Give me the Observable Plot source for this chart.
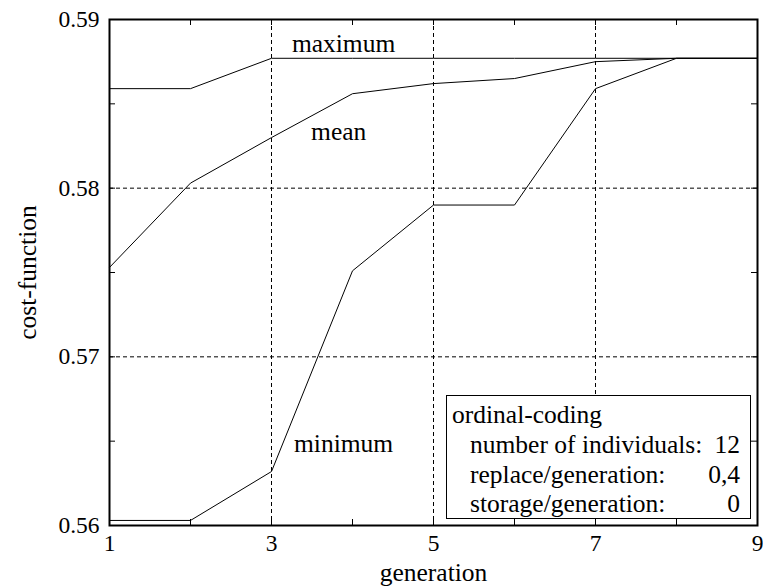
<!DOCTYPE html>
<html>
<head>
<meta charset="utf-8">
<script src="https://cdn.jsdelivr.net/npm/d3@7"></script>
<script src="https://cdn.jsdelivr.net/npm/@observablehq/plot@0.6"></script>
<style>
  html, body { margin: 0; padding: 0; background: white; }
  #wrap { position: relative; width: 763px; height: 587px; overflow: hidden; }
  #wrap svg, #wrap svg text { font-family: "Liberation Serif", Tinos, "Times New Roman", Times, "DejaVu Serif", serif !important; }
  #legend {
    position: absolute; left: 446px; top: 395px; width: 303px; height: 122px;
    border: 1px solid black; background: white; box-sizing: content-box;
    font-family: "Liberation Serif", Tinos, "Times New Roman", Times, "DejaVu Serif", serif; font-size: 25.5px; color: black;
  }
  #legend .row { position: absolute; white-space: nowrap; line-height: 1; }
</style>
</head>
<body>
<div id="wrap"></div>
<script>
const generations = [1, 2, 3, 4, 5, 6, 7, 8, 9];
const maximum = [0.5859, 0.5859, 0.5877, 0.5877, 0.5877, 0.5877, 0.5877, 0.5877, 0.5877];
const mean    = [0.5753, 0.5803, 0.5830, 0.5856, 0.5862, 0.5865, 0.5875, 0.5877, 0.5877];
const minimum = [0.5603, 0.5603, 0.5632, 0.5751, 0.5790, 0.5790, 0.5859, 0.5877, 0.5877];

const xTicks = [1, 2, 3, 4, 5, 6, 7, 8, 9];
const xTickLabels = [1, 3, 5, 7, 9];
const yTicks = [0.56, 0.565, 0.57, 0.575, 0.58, 0.585, 0.59];
const yTickLabels = [0.56, 0.57, 0.58, 0.59];
const gridX = [3, 5, 7];
const gridY = [0.57, 0.58];

const labelTexts = ["maximum", "mean", "minimum"];
const labelGen = [3.89, 3.83, 3.89];
const labelValue = [0.58855, 0.58332, 0.56487];

const legendTitle = "ordinal-coding";
const legendKeys = ["number of individuals:", "replace/generation:", "storage/generation:"];
const legendValues = ["12", "0,4", "0"];

const rows = [];
[["maximum", maximum], ["mean", mean], ["minimum", minimum]].forEach(([name, vals]) => {
  generations.forEach((g, i) => rows.push({series: name, gen: g, value: vals[i]}));
});
const seriesLabels = labelTexts.map((t, i) => ({text: t, gen: labelGen[i], value: labelValue[i]}));

const W = 763, H = 587, mt = 19, mb = 62, ml = 109, mr = 6;
const innerH = H - mt - mb, innerW = W - ml - mr;
const font = '"Liberation Serif", Tinos, "Times New Roman", Times, "DejaVu Serif", serif';

const chart = Plot.plot({
  width: W, height: H,
  marginTop: mt, marginBottom: mb, marginLeft: ml, marginRight: mr,
  style: {fontFamily: font, fontSize: "23.5px", color: "black", background: "white"},
  x: {domain: [1, 9]},
  y: {domain: [0.56, 0.59]},
  marks: [
    Plot.ruleX(gridX, {x: d => d, stroke: "black", strokeWidth: 1, strokeDasharray: "4,3"}),
    Plot.ruleY(gridY, {y: d => d, stroke: "black", strokeWidth: 1, strokeDasharray: "4,3"}),
    Plot.tickX(xTicks, {x: d => d, stroke: "black", insetTop: innerH - 6}),
    Plot.tickX(xTicks, {x: d => d, stroke: "black", insetBottom: innerH - 6}),
    Plot.tickY(yTicks, {y: d => d, stroke: "black", insetRight: innerW - 6}),
    Plot.tickY(yTicks, {y: d => d, stroke: "black", insetLeft: innerW - 6}),
    Plot.line(rows, {x: "gen", y: "value", z: "series", stroke: "black", strokeWidth: 1}),
    Plot.text(seriesLabels, {x: "gen", y: "value", text: "text", fontSize: 25.5, fill: "black"}),
    Plot.axisX({ticks: xTickLabels, tickSize: 0, tickPadding: 9, label: null, fontSize: 23.5, tickFormat: d => String(d)}),
    Plot.axisY({ticks: yTickLabels, tickSize: 0, tickPadding: 10, label: null, fontSize: 23.5, tickFormat: d => d.toFixed(2)}),
    Plot.text(["generation"], {frameAnchor: "bottom", text: d => d, dy: 47, lineAnchor: "middle", textAnchor: "middle", fontSize: 25.5, fill: "black"}),
    Plot.text(["cost-function"], {frameAnchor: "left", text: d => d, dx: -82, rotate: -90, lineAnchor: "middle", textAnchor: "middle", fontSize: 25.5, fill: "black"}),
    Plot.frame({stroke: "black", strokeWidth: 2})
  ]
});
const wrap = document.getElementById("wrap");
wrap.appendChild(chart);

const legend = document.createElement("div");
legend.id = "legend";
const title = document.createElement("div");
title.className = "row";
title.textContent = legendTitle;
title.style.left = "5px"; title.style.top = "6px";
legend.appendChild(title);
legendKeys.forEach((k, i) => {
  const r = document.createElement("div");
  r.className = "row";
  r.textContent = k;
  r.style.left = "23px"; r.style.top = (36 + i * 29.5) + "px";
  legend.appendChild(r);
  const v = document.createElement("div");
  v.className = "row";
  v.textContent = legendValues[i];
  v.style.right = "10px"; v.style.top = (36 + i * 29.5) + "px";
  legend.appendChild(v);
});
wrap.appendChild(legend);
</script>
</body>
</html>
